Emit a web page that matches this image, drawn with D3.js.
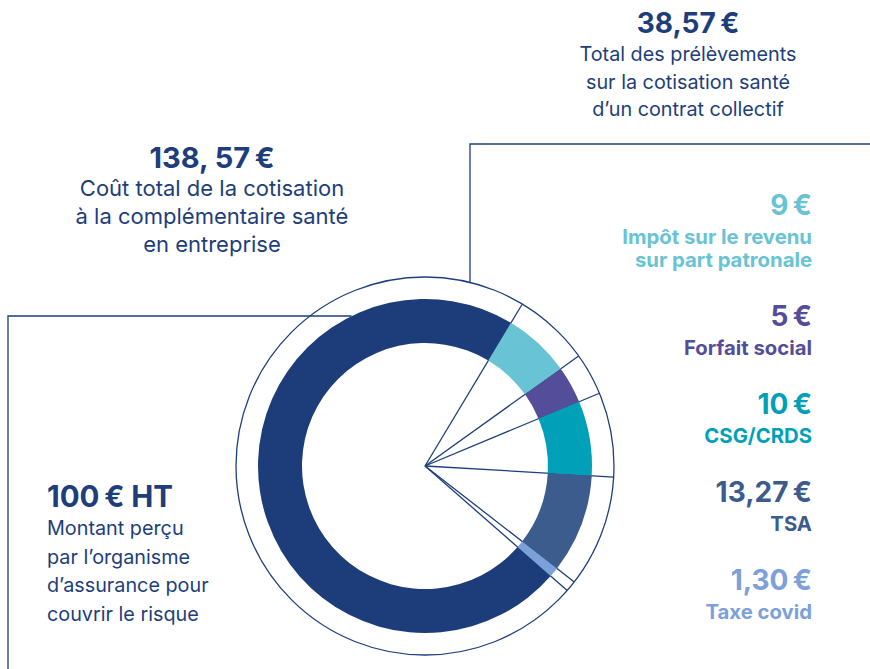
<!DOCTYPE html>
<html>
<head>
<meta charset="utf-8">
<script src="https://cdn.jsdelivr.net/npm/d3@7"></script>
<style>
  html, body { margin: 0; padding: 0; background: #fff; }
  svg { display: block; font-family: Inter, "Noto Sans", sans-serif; }
</style>
</head>
<body>
<div id="chart"></div>
<script>
// données (en euros)
const sliceKeys = ['risque', 'ir', 'forfait', 'csg', 'tsa', 'covid'];
const sliceValues = [100, 9, 5, 10, 13.27, 1.30];
const valueTexts = ['100\u202f€ HT', '9\u202f€', '5\u202f€', '10\u202f€', '13,27\u202f€', '1,30\u202f€'];
const labelLines = [
  ['Montant perçu', 'par l\u2019organisme', 'd\u2019assurance pour', 'couvrir le risque'],
  ['Impôt sur le revenu', 'sur part patronale'],
  ['Forfait social'],
  ['CSG/CRDS'],
  ['TSA'],
  ['Taxe covid']
];
const totalText = '138, 57\u202f€';
const totalLines = ['Coût total de la cotisation', 'à la complémentaire santé', 'en entreprise'];
const prelevText = '38,57\u202f€';
const prelevLines = ['Total des prélèvements', 'sur la cotisation santé', 'd\u2019un contrat collectif'];

const width = 870, height = 669;
const navy = '#1d3e7b';
const cx = 425, cy = 466;
const rOuterCircle = 189, rRingOut = 167, rRingIn = 123;

const palette = d3.scaleOrdinal()
  .domain(sliceKeys)
  .range(['#1c3d7a', '#68c3d5', '#544d9a', '#00a1b8', '#3c5c8d', '#7ba1d8']);

const deg = Math.PI / 180;
const startA = 131.2 * deg; // le gros morceau finit en haut à droite

const pie = d3.pie().sort(null).value(d => d.v)
  .startAngle(startA).endAngle(startA + 2 * Math.PI);
const arcs = pie(sliceKeys.map((k, i) => ({ k: k, v: sliceValues[i] })));

const svg = d3.select('#chart').append('svg')
  .attr('width', width).attr('height', height);

// cadres
const yTopLine = 144, xTopLine = 470;
svg.append('path')
  .attr('d', `M${width},${yTopLine}H${xTopLine}V${cy - Math.sqrt(rOuterCircle ** 2 - (xTopLine - cx) ** 2)}`)
  .attr('fill', 'none').attr('stroke', navy).attr('stroke-width', 1.3);

const yLeftLine = 316, xLeftLine = 8;
svg.append('path')
  .attr('d', `M${cx - Math.sqrt(rRingOut ** 2 - (cy - yLeftLine) ** 2)},${yLeftLine}H${xLeftLine}V${height}`)
  .attr('fill', 'none').attr('stroke', navy).attr('stroke-width', 1.3);

const g = svg.append('g').attr('transform', `translate(${cx},${cy})`);

g.append('circle').attr('r', rOuterCircle)
  .attr('fill', 'none').attr('stroke', navy).attr('stroke-width', 1.3);

// rayons aux limites des prélèvements
const small = arcs.slice(1);
const rayAngles = [small[0].startAngle].concat(small.map(d => d.endAngle));
g.selectAll('line.ray').data(rayAngles).join('line')
  .attr('class', 'ray')
  .attr('x1', 0).attr('y1', 0)
  .attr('x2', a => rOuterCircle * Math.sin(a))
  .attr('y2', a => -rOuterCircle * Math.cos(a))
  .attr('stroke', navy).attr('stroke-width', 1.3);

const arc = d3.arc().innerRadius(rRingIn).outerRadius(rRingOut);
g.selectAll('path.slice').data(arcs).join('path')
  .attr('class', 'slice')
  .attr('d', arc)
  .attr('fill', d => palette(d.data.k));

// textes du haut
function centeredBlock(x, y, big, lines, bigSize, size, lh) {
  svg.append('text').attr('x', x).attr('y', y).attr('text-anchor', 'middle')
    .attr('fill', navy).attr('font-weight', 700).attr('font-size', bigSize)
    .text(big);
  svg.append('g').selectAll('text').data(lines).join('text')
    .attr('x', x).attr('y', (d, i) => y + 28 + i * lh)
    .attr('text-anchor', 'middle').attr('fill', navy)
    .attr('font-size', size).text(d => d);
}
centeredBlock(688, 33, prelevText, prelevLines, 28, 19.8, 27.5);
centeredBlock(212, 168, totalText, totalLines, 29, 22, 28);

// bloc gauche
svg.append('text').attr('x', 47).attr('y', 507)
  .attr('fill', navy).attr('font-weight', 700).attr('font-size', 29.5)
  .text(valueTexts[0]);
svg.append('g').selectAll('text').data(labelLines[0]).join('text')
  .attr('x', 47).attr('y', (d, i) => 535 + i * 28.7)
  .attr('fill', navy).attr('font-size', 19.8).text(d => d);

// légende de droite
const xRight = 812;
let yCur = 215;
sliceKeys.slice(1).forEach((k, i) => {
  const idx = i + 1;
  svg.append('text').attr('x', xRight).attr('y', yCur).attr('text-anchor', 'end')
    .attr('fill', palette(k)).attr('font-weight', 700).attr('font-size', 28)
    .text(valueTexts[idx]);
  yCur += 29;
  labelLines[idx].forEach((t, j) => {
    if (j > 0) yCur += 23;
    svg.append('text').attr('x', xRight).attr('y', yCur).attr('text-anchor', 'end')
      .attr('fill', palette(k)).attr('font-weight', 700).attr('font-size', 20.3)
      .text(t);
  });
  yCur += 59;
});
</script>
</body>
</html>
